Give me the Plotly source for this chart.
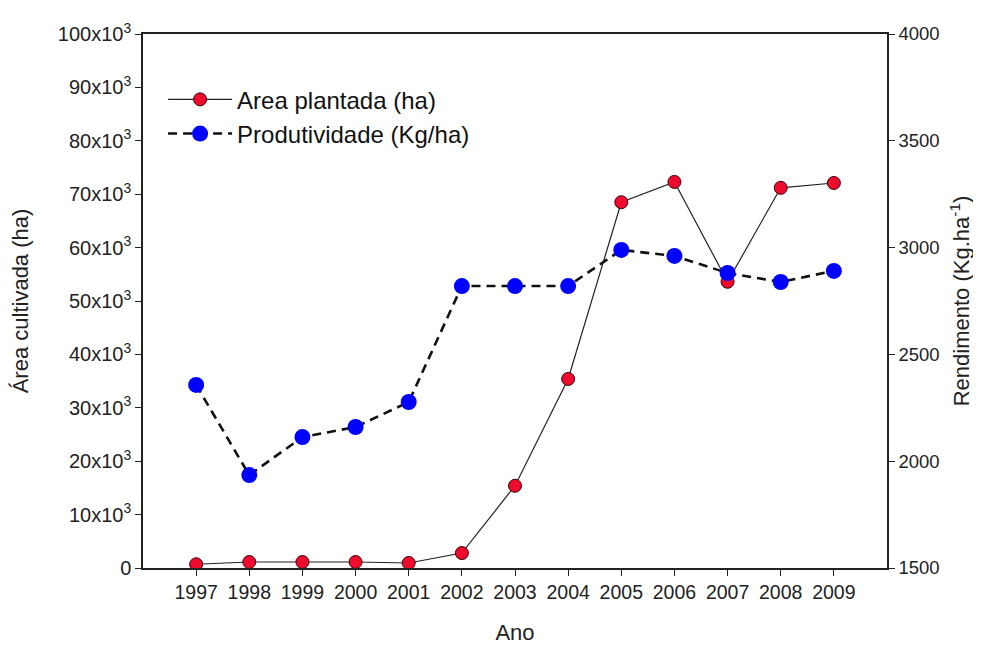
import plotly.graph_objects as go

anos = [1997, 1998, 1999, 2000, 2001, 2002, 2003, 2004, 2005, 2006, 2007, 2008, 2009]
area_plantada = [700, 1120, 1120, 1120, 940, 2800, 15400, 35400, 68500, 72300, 53600, 71200, 72100]
produtividade = [2357, 1935, 2113, 2160, 2277, 2820, 2820, 2820, 2989, 2961, 2881, 2839, 2891]

left_vals = [0, 10000, 20000, 30000, 40000, 50000, 60000, 70000, 80000, 90000, 100000]
left_text = ["0"] + [f"{v//1000}x10<sup>3</sup>" for v in left_vals[1:]]
right_vals = [1500, 2000, 2500, 3000, 3500, 4000]

FONT = "Liberation Sans, Arial, sans-serif"

fig = go.Figure()
fig.add_trace(go.Scatter(
    x=anos, y=area_plantada, name="Area plantada (ha)", mode="lines+markers",
    line=dict(color="#222222", width=1.2),
    marker=dict(color="#ee0b2e", size=13, line=dict(color="#3a0008", width=1)),
    yaxis="y"))
fig.add_trace(go.Scatter(
    x=anos, y=produtividade, name="Produtividade (Kg/ha)", mode="lines+markers",
    line=dict(color="#111111", width=2.6, dash="9px,6px"),
    marker=dict(color="#0000ff", size=16, line=dict(color="#0000cc", width=0)),
    yaxis="y2"))

# page body has an 8px margin, so figure is 8px smaller and margins are shifted
fig.update_layout(
    width=973, height=639,
    paper_bgcolor="white", plot_bgcolor="white",
    margin=dict(l=135, r=94, t=26, b=79),
    font=dict(family=FONT, size=19, color="#222222"),
    showlegend=True,
    legend=dict(x=0.027, y=0.919, xanchor="left", yanchor="top",
                font=dict(size=24, family=FONT, color="#111111"),
                bgcolor="rgba(0,0,0,0)", tracegroupgap=0, itemwidth=64),
    xaxis=dict(range=[1996, 2010], tickmode="array", tickvals=anos,
               ticktext=[str(a) for a in anos], automargin=False,
               showgrid=False, zeroline=False, showline=True, linecolor="#222222",
               linewidth=1.5, ticks="outside", ticklen=6, tickcolor="#222222",
               mirror=True,
               tickfont=dict(size=19.5),
               title=dict(text="Ano", font=dict(size=22), standoff=22)),
    yaxis=dict(range=[0, 100000], tickmode="array", tickvals=left_vals, ticktext=left_text,
               automargin=False,
               showgrid=False, zeroline=False, showline=True, linecolor="#222222",
               linewidth=1.5, ticks="outside", ticklen=6, tickcolor="#222222",
               tickfont=dict(size=20),
               title=dict(text="Área cultivada (ha)", font=dict(size=22), standoff=24)),
    yaxis2=dict(range=[1500, 4000], tickmode="array", tickvals=right_vals,
                overlaying="y", side="right", automargin=False,
                showgrid=False, zeroline=False, showline=True, linecolor="#222222",
                linewidth=1.5, ticks="outside", ticklen=6, tickcolor="#222222",
                tickfont=dict(size=18.5),
                title=dict(text="Rendimento (Kg.ha<sup>-1</sup>)", font=dict(size=22), standoff=15)),
)

fig.write_html("out.html")
